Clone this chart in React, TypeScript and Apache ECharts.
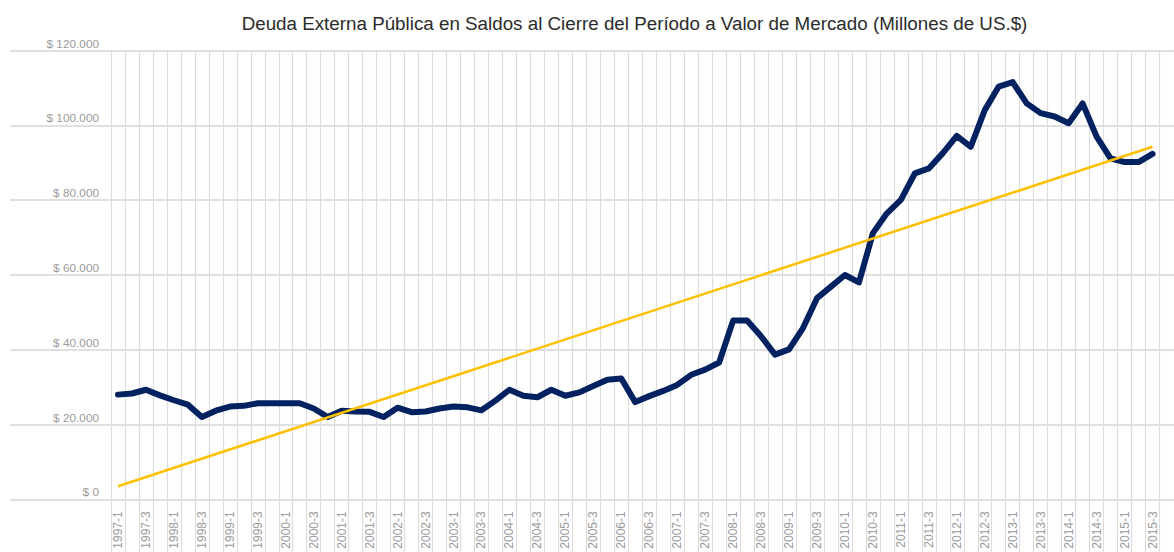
import React, { useEffect, useRef } from "react";
import * as echarts from "echarts";

const years = [1997, 1998, 1999, 2000, 2001, 2002, 2003, 2004, 2005, 2006, 2007, 2008, 2009, 2010, 2011, 2012, 2013, 2014, 2015];
const quarters = [1, 2, 3, 4];
const categories: string[] = [];
years.forEach((y) => quarters.forEach((q) => {
  if (!(y === 2015 && q === 4)) categories.push(`${y}-${q}`);
}));

const debt = [
  28000, 28300, 29300, 27800, 26500, 25300, 22000, 23700, 24800, 25000,
  25700, 25700, 25700, 25700, 24300, 22000, 23700, 23500, 23400, 22000,
  24500, 23300, 23500, 24300, 24800, 24600, 23800, 26400, 29300, 27700,
  27300, 29300, 27700, 28600, 30300, 32000, 32300, 26000, 27600, 29000,
  30600, 33300, 34700, 36600, 47800, 47800, 43600, 38700, 40100, 45800,
  53800, 56900, 60000, 58000, 71200, 76500, 80100, 87200, 88500, 92600,
  97200, 94300, 104100, 110400, 111600, 105900, 103300, 102400, 100600, 105900,
  97000, 91200, 90200, 90200, 92400,
];

const trendStart = 3500;
const trendEnd = 94300;
const trend = categories.map((_, i) => (i === 0 ? trendStart : i === categories.length - 1 ? trendEnd : null));

const yTicks = [0, 20000, 40000, 60000, 80000, 100000, 120000];
const title = "Deuda Externa Pública en Saldos al Cierre del Período a Valor de Mercado (Millones de US.$)";

const FONT = "'Liberation Sans', Arial, sans-serif";

function fmt(v: number) {
  const s = Math.round(v).toString().replace(/\B(?=(\d{3})+(?!\d))/g, ".");
  return "$ " + s;
}

export default function App() {
  const ref = useRef<HTMLDivElement>(null);
  useEffect(() => {
    if (!ref.current) return;
    const chart = echarts.init(ref.current, null, { renderer: "svg" });
    const L = 111, R = 14.5, T = 50.7, B = 52.7;
    chart.setOption({
      animation: false,
      backgroundColor: "#ffffff",
      graphic: [
        {
          type: "text",
          x: 634.5,
          y: 23,
          style: {
            text: title,
            fontSize: 18.8,
            fontFamily: FONT,
            fill: "#2b2b2b",
            textAlign: "center",
            textVerticalAlign: "middle",
          },
        },
      ],
      grid: [
        { left: L, right: R, top: T, bottom: B },
        { left: L, right: R, top: T, bottom: 0 },
        { left: 10, right: 0, top: T, bottom: B },
      ],
      xAxis: [
        {
          type: "category",
          gridIndex: 0,
          data: categories,
          boundaryGap: true,
          axisLine: { show: false },
          axisTick: { show: false },
          splitLine: { show: false },
          axisLabel: {
            interval: 1,
            rotate: 90,
            margin: 12,
            color: "#9a9a9a",
            fontSize: 12,
            fontFamily: FONT,
          },
        },
        {
          type: "category",
          gridIndex: 1,
          data: categories,
          boundaryGap: true,
          axisLine: { show: false },
          axisTick: { show: false },
          axisLabel: { show: false },
          splitLine: { show: true, interval: 0, lineStyle: { color: "#dddddd", width: 1.2 } },
        },
        {
          type: "value",
          gridIndex: 2,
          show: false,
        },
      ],
      yAxis: [
        {
          type: "value",
          gridIndex: 0,
          min: 0,
          max: 120000,
          interval: 20000,
          axisLine: { show: false },
          axisTick: { show: false },
          splitLine: { show: false },
          axisLabel: {
            formatter: (v: number) => fmt(v),
            color: "#9a9a9a",
            fontSize: 11.8,
            fontFamily: FONT,
            verticalAlign: "bottom",
            margin: 12,
            padding: [0, 0, 1, 0],
          },
        },
        {
          type: "value",
          gridIndex: 1,
          show: false,
        },
        {
          type: "value",
          gridIndex: 2,
          min: yTicks[0],
          max: yTicks[yTicks.length - 1],
          interval: 20000,
          axisLine: { show: false },
          axisTick: { show: false },
          axisLabel: { show: false },
          splitLine: { show: true, lineStyle: { color: "#e0e0e0", width: 2 } },
        },
      ],
      series: [
        {
          type: "line",
          name: "Deuda",
          xAxisIndex: 0,
          yAxisIndex: 0,
          data: debt,
          showSymbol: false,
          symbol: "none",
          lineStyle: { color: "#022160", width: 6, cap: "round", join: "round" },
          z: 3,
        },
        {
          type: "line",
          name: "Tendencia",
          xAxisIndex: 0,
          yAxisIndex: 0,
          data: trend,
          connectNulls: true,
          showSymbol: false,
          symbol: "none",
          lineStyle: { color: "#FFC000", width: 2.5 },
          z: 4,
        },
      ],
    });
    return () => chart.dispose();
  }, []);
  return <div ref={ref} style={{ position: "fixed", left: 0, top: 0, width: 1174, height: 552 }} />;
}
